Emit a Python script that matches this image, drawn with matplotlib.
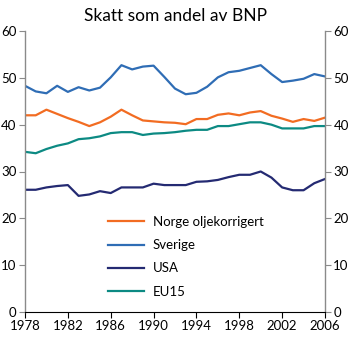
import numpy as np
import matplotlib.pyplot as plt

plt.rcParams['font.family'] = ['Lato', 'DejaVu Sans']

years = np.arange(1978, 2007)

norge = [42.0, 42.0, 43.2, 42.3, 41.4, 40.6, 39.7, 40.5, 41.7, 43.2, 42.0, 40.9, 40.7,
         40.5, 40.4, 40.1, 41.2, 41.2, 42.1, 42.4, 42.0, 42.6, 42.9, 41.9, 41.3, 40.6,
         41.2, 40.8, 41.5]
sverige = [48.3, 47.1, 46.7, 48.3, 47.0, 48.0, 47.3, 47.9, 50.1, 52.7, 51.8, 52.4, 52.6,
           50.2, 47.7, 46.5, 46.8, 48.1, 50.1, 51.2, 51.5, 52.1, 52.7, 50.8, 49.1, 49.4,
           49.8, 50.8, 50.3]
usa = [26.1, 26.1, 26.6, 26.9, 27.1, 24.8, 25.1, 25.8, 25.4, 26.6, 26.6, 26.6, 27.4,
       27.1, 27.1, 27.1, 27.8, 27.9, 28.2, 28.8, 29.3, 29.3, 30.0, 28.7, 26.6, 26.0,
       26.0, 27.5, 28.4]
eu15 = [34.2, 33.9, 34.8, 35.5, 36.0, 36.9, 37.1, 37.5, 38.2, 38.4, 38.4, 37.8, 38.1,
        38.2, 38.4, 38.7, 38.9, 38.9, 39.7, 39.7, 40.1, 40.5, 40.5, 40.0, 39.2, 39.2,
        39.2, 39.7, 39.7]

labels = ['Norge oljekorrigert', 'Sverige', 'USA', 'EU15']
colors = ['#f26c22', '#2f6db5', '#242a72', '#0c8a83']

fig = plt.figure(figsize=(3.5, 3.37), dpi=100)
ax = fig.add_axes([25/350, 25/337, 300/350, 281/337])

for vals, lab, c in zip([norge, sverige, usa, eu15], labels, colors):
    ax.plot(years, vals, color=c, lw=1.6, label=lab)

ax.set_xlim(1978, 2006)
ax.set_ylim(0, 60)
ax.set_xticks(np.arange(1978, 2007, 4))
ax.set_yticks(np.arange(0, 61, 10))

ax.spines['top'].set_visible(False)
for s in ['left', 'right']:
    ax.spines[s].set_color('#8a8a8a')
    ax.spines[s].set_linewidth(1.0)
ax.spines['bottom'].set_color('black')
ax.spines['bottom'].set_linewidth(0.8)

ax.tick_params(axis='y', left=True, right=True, labelleft=True, labelright=True,
               direction='out', length=4, color='#8a8a8a', labelsize=9.5, pad=2)
ax.tick_params(axis='x', direction='out', length=4, labelsize=9.5, pad=2)

ax.set_title('Skatt som andel av BNP', fontsize=12.5, pad=7)

ax.legend(loc='upper left', bbox_to_anchor=(0.255, 0.365), frameon=False, fontsize=9.5,
          borderpad=0, handlelength=2.75, handletextpad=0.65, labelspacing=0.85)

fig.savefig('out.png', dpi=100)
